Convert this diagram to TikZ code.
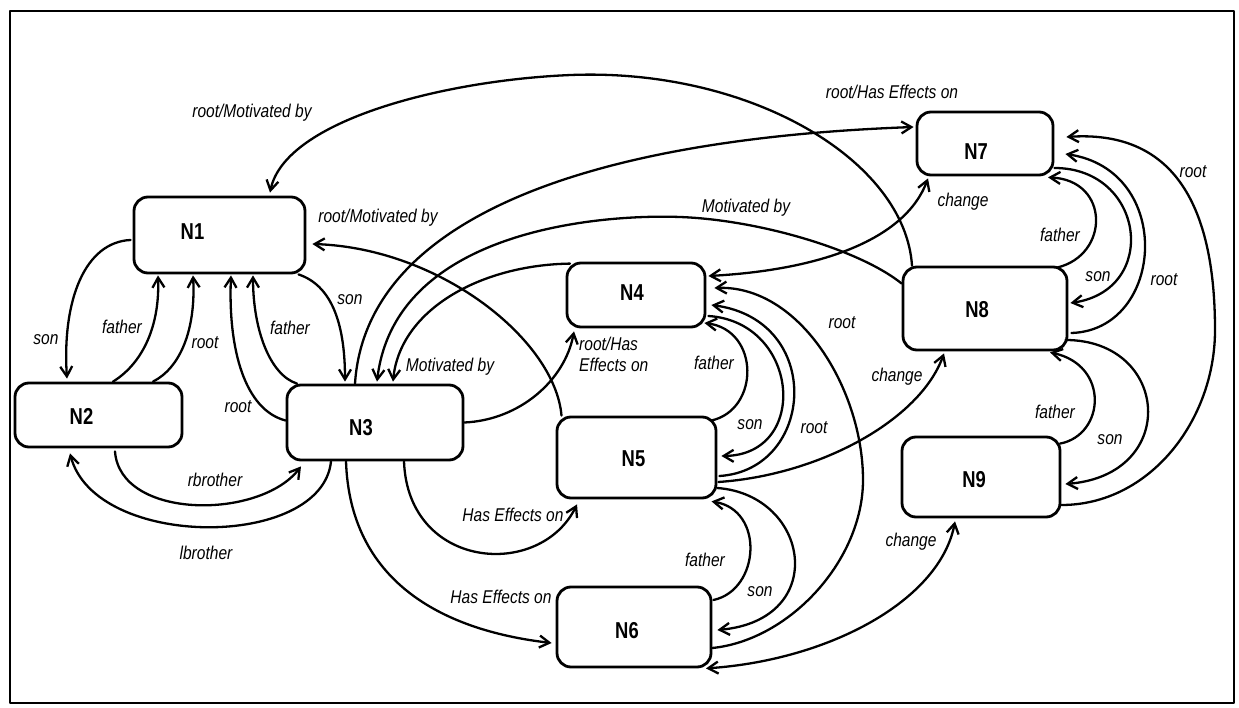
\documentclass[tikz,border=0pt]{standalone}
\usepackage{fontspec}
\usetikzlibrary{arrows.meta,calc}
\newfontfamily\narrowsans{Liberation Sans}[FakeStretch=0.84]
\newfontfamily\boxsans{Liberation Sans}[FakeStretch=0.8]
\newcommand\labfont{\narrowsans\itshape\fontsize{18.5pt}{21pt}\selectfont}
\newcommand\boxfont{\boxsans\bfseries\fontsize{23pt}{25pt}\selectfont}
\tikzset{
  state/.style={draw, line width=2.8pt, rounded corners=14pt, inner sep=0pt},
  nname/.style={font=\boxfont, inner sep=0pt},
  lab/.style={font=\labfont, inner sep=0pt},
  link/.style={line width=2.3pt, -{Straight Barb[length=10pt,width=12pt]}},
  both/.style={line width=2.3pt, {Straight Barb[length=10pt,width=12pt]}-{Straight Barb[length=10pt,width=12pt]}},
}
\begin{document}
\begin{tikzpicture}[x=1pt, y=-1pt, line cap=round, line join=round]
\useasboundingbox (0,0) rectangle (1239,708);
\fill[white] (0,0) rectangle (1239,708);
% outer frame
\draw[line width=2.6pt] (10,11) rectangle (1234,703);

% states
\node[state, minimum width=171pt, minimum height=76pt] (N1) at (219.5,235) {};
\node[state, minimum width=167pt, minimum height=64pt] (N2) at (98.5,415) {};
\node[state, minimum width=176pt, minimum height=75pt] (N3) at (375,422.5) {};
\node[state, minimum width=138pt, minimum height=64pt] (N4) at (636,295) {};
\node[state, minimum width=159pt, minimum height=81pt] (N5) at (636.5,457.5) {};
\node[state, minimum width=154pt, minimum height=80pt] (N6) at (634,627) {};
\node[state, minimum width=136pt, minimum height=63pt] (N7) at (985,143.5) {};
\node[state, minimum width=164pt, minimum height=83pt] (N8) at (985,308.5) {};
\node[state, minimum width=158pt, minimum height=80pt] (N9) at (981,477) {};

% state names
\node[nname] (T1) at ($(N1.center)+(-27,-3)$) {N1};
\node[nname] (T2) at ($(N2.center)+(-17,1)$) {N2};
\node[nname] (T3) at ($(N3.center)+(-14,5)$) {N3};
\node[nname] (T4) at ($(N4.center)+(-4,-2)$) {N4};
\node[nname] (T5) at ($(N5.center)+(-3,1)$) {N5};
\node[nname] (T6) at ($(N6.center)+(-7,4)$) {N6};
\node[nname] (T7) at ($(N7.center)+(-9,8)$) {N7};
\node[nname] (T8) at ($(N8.center)+(-8,1)$) {N8};
\node[nname] (T9) at ($(N9.center)+(-7,3)$) {N9};

% N1 / N2 / N3
\draw[link] ($(N1.west)+(-2,5)$) .. controls (85,242) and (62,300) .. ($(N2.north)+(-31.5,-3)$);
\draw[link] ($(N2.north)+(14.5,0)$) .. controls (140,365) and (160,330) .. ($(N1.south)+(-61.5,1)$);
\draw[link] ($(N2.north)+(54.5,0)$) .. controls (180,368) and (196,330) .. ($(N1.south)+(-26.5,1)$);
\draw[link] ($(N3.west)+(0,-2)$) .. controls (245,410) and (228,350) .. ($(N1.south)+(11.5,1)$);
\draw[link] ($(N3.north)+(-78,0)$) .. controls (270,375) and (253,330) .. ($(N1.south)+(33.5,1)$);
\draw[link] ($(N1.south)+(79,0)$) .. controls (330,285) and (345,320) .. ($(N3.north)+(-30,-2)$);
\draw[link] ($(N2.south)+(16.5,3)$) .. controls (120,520) and (260,520) .. ($(N3.south)+(-74,5)$);
\draw[link] ($(N3.south)+(-44,0)$) .. controls (322,550) and (95,550) .. ($(N2.south)+(-28.5,5)$);

% long arcs
\draw[link] ($(N8.north)+(-73,0)$) .. controls (905,160) and (750,68) .. (571,75)
  .. controls (446,80) and (285,120) .. ($(N1.north)+(50.5,-3)$);
\draw[link] ($(N3.north)+(-20,0)$) .. controls (365,230) and (560,140) .. ($(N7.west)+(-2,-16.5)$);
\draw[link] ($(N5.north)+(-75,0)$) .. controls (555,340) and (440,248) .. ($(N1.east)+(6,9)$);
\draw[link] ($(N8.west)+(0,-25)$) .. controls (860,250) and (760,220) .. (680,217)
  .. controls (600,214) and (395,230) .. ($(N3.north)+(2,-2)$);
\draw[link] ($(N4.north)+(-66,2)$) .. controls (480,265) and (400,310) .. ($(N3.north)+(18,-2)$);
\draw[link] (N3.east) .. controls (520,420) and (565,380) .. ($(N4.south)+(-62,3)$);
\draw[link] ($(N3.south)+(29,0)$) .. controls (408,570) and (540,580) .. ($(N5.south)+(-59.5,5)$);
\draw[link] ($(N3.south)+(-29,0)$) .. controls (350,580) and (440,630) .. ($(N6.west)+(-4,16)$);

% N4 / N5 / N6
\draw[both] ($(N4.east)+(2,-19)$) .. controls (820,270) and (905,240) .. ($(N7.south)+(-57,2)$);
\draw[link] ($(N6.east)+(0,21)$) .. controls (790,640) and (863,560) .. (863,480)
  .. controls (863,390) and (800,285) .. ($(N4.east)+(8,-7)$);
\draw[link] ($(N5.east)+(2,18.5)$) .. controls (815,470) and (825,320) .. ($(N4.east)+(5,10)$);
\draw[link] ($(N4.east)+(2,21)$) .. controls (800,322) and (810,455) .. ($(N5.east)+(4,-1.5)$);
\draw[link] ($(N5.north)+(74.5,5)$) .. controls (760,410) and (760,330) .. ($(N4.east)+(-2,28)$);
\draw[link] ($(N5.east)+(1,24.5)$) .. controls (820,475) and (920,420) .. ($(N8.south)+(-41,2)$);
\draw[link] ($(N6.east)+(1,-27)$) .. controls (760,590) and (765,510) .. ($(N5.south)+(75,2)$);
\draw[link] ($(N5.east)+(0,30.5)$) .. controls (810,495) and (830,620) .. ($(N6.east)+(5,3)$);
\draw[both] ($(N6.south)+(72,0)$) .. controls (830,660) and (940,600) .. ($(N9.south)+(-26,3)$);

% N7 / N8 / N9
\draw[link] ($(N8.north)+(72,2)$) .. controls (1110,255) and (1110,180) .. ($(N7.south)+(63,1)$);
\draw[link] ($(N7.east)+(0,24.5)$) .. controls (1145,168) and (1160,290) .. ($(N8.east)+(2,-5.5)$);
\draw[link] ($(N8.east)+(3,24.5)$) .. controls (1165,330) and (1175,170) .. ($(N7.east)+(11,10.5)$);
\draw[link] ($(N9.east)+(0,28)$) .. controls (1150,505) and (1215,420) .. (1215,330)
  .. controls (1215,200) and (1170,130) .. ($(N7.east)+(12,-6.5)$);
\draw[link] ($(N9.north)+(79,8)$) .. controls (1105,435) and (1110,365) .. ($(N8.south)+(65,1)$);
\draw[link] ($(N8.east)+(-3,31.5)$) .. controls (1170,340) and (1180,475) .. ($(N9.east)+(4,7)$);

% edge labels
\node[lab] (l1) at (252,113) {root/Motivated by};
\node[lab] (l2) at (378,218) {root/Motivated by};
\node[lab] (l3) at (46,340) {son};
\node[lab] (l4) at (122,327) {father};
\node[lab] (l5) at (205,343) {root};
\node[lab] (l6) at (290,328) {father};
\node[lab] (l7) at (350,300) {son};
\node[lab] (l8) at (238,407) {root};
\node[lab] (l9) at (450,367) {Motivated by};
\node[lab] (l10) at (215,480) {rbrother};
\node[lab] (l11) at (206,553) {lbrother};
\node[lab] (l12) at (513,515) {Has Effects on};
\node[lab] (l13) at (501,597) {Has Effects on};
\node[lab, anchor=west, align=left] (l14) at (579,354) {root/Has\\Effects on};
\node[lab] (l15) at (714,363) {father};
\node[lab] (l16) at (750,425) {son};
\node[lab] (l17) at (814,428) {root};
\node[lab] (l18) at (842,323) {root};
\node[lab] (l19) at (897,377) {change};
\node[lab] (l20) at (911,542) {change};
\node[lab] (l21) at (705,560) {father};
\node[lab] (l22) at (760,592) {son};
\node[lab] (l23) at (963,202) {change};
\node[lab] (l24) at (1060,235) {father};
\node[lab] (l25) at (1098,277) {son};
\node[lab] (l26) at (1164,280) {root};
\node[lab] (l27) at (1193,172) {root};
\node[lab] (l28) at (1055,412) {father};
\node[lab] (l29) at (1110,440) {son};
\node[lab] (l30) at (746,208) {Motivated by};
\node[lab] (l31) at (892,92) {root/Has Effects on};
\end{tikzpicture}
\end{document}
